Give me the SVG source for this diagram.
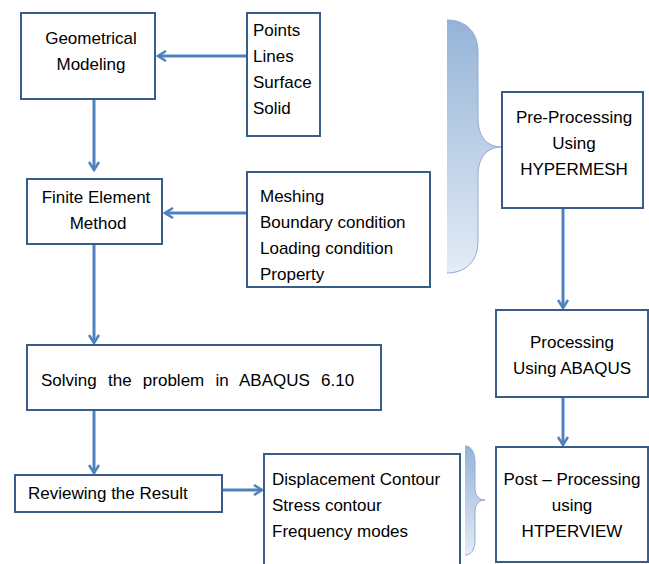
<svg xmlns="http://www.w3.org/2000/svg" width="649" height="564" viewBox="0 0 649 564">
<defs>
<style>
.box{fill:#fff;stroke:#385d8a;stroke-width:2}
.t{font-family:"Liberation Sans",Arial,sans-serif;font-size:17px;fill:#000}
.c{text-anchor:middle}
.conn{stroke:#4f81bd;stroke-width:3;fill:none}
</style>
<marker id="ah" viewBox="0 0 12 12" refX="10" refY="6" markerWidth="12" markerHeight="12" markerUnits="userSpaceOnUse" orient="auto">
<path d="M2,1 L10,6 L2,11" fill="none" stroke="#4f81bd" stroke-width="2.5"/>
</marker>
<linearGradient id="g" x1="0" y1="0" x2="0" y2="1">
<stop offset="0" stop-color="#95b3d7"/>
<stop offset="1" stop-color="#e4ecf6"/>
</linearGradient>
</defs>
<g id="connectors">
<line class="conn" x1="247" y1="56" x2="158" y2="56" marker-end="url(#ah)"/>
<line class="conn" x1="94" y1="99" x2="94" y2="170" marker-end="url(#ah)"/>
<line class="conn" x1="247" y1="213" x2="165" y2="213" marker-end="url(#ah)"/>
<line class="conn" x1="94" y1="245" x2="94" y2="343" marker-end="url(#ah)"/>
<line class="conn" x1="94" y1="411" x2="94" y2="473" marker-end="url(#ah)"/>
<line class="conn" x1="222" y1="490" x2="262" y2="490" marker-end="url(#ah)"/>
<line class="conn" x1="563" y1="208" x2="563" y2="308" marker-end="url(#ah)"/>
<line class="conn" x1="563" y1="397" x2="563" y2="445" marker-end="url(#ah)"/>
</g>
<g id="brace-pre">
<path d="M447,20 C466,20 478,32 478,52 L478,118 C478,138 488,147 502,147 C488,147 478,156 478,176 L478,241 C478,261 466,273 447,273 Z" fill="url(#g)" stroke="none"/>
<path d="M447,20 C466,20 478,32 478,52 L478,118 C478,138 488,147 502,147 C488,147 478,156 478,176 L478,241 C478,261 466,273 447,273" fill="none" stroke="#8eacd4" stroke-width="1"/>
</g>
<g id="brace-post">
<path d="M465,446 C471,446 475,452 475,462 L475,488 C475,496 479,500 485,500 C479,500 475,504 475,512 L475,540 C475,550 471,555 465,555 Z" fill="url(#g)" stroke="none"/>
<path d="M465,446 C471,446 475,452 475,462 L475,488 C475,496 479,500 485,500 C479,500 475,504 475,512 L475,540 C475,550 471,555 465,555" fill="none" stroke="#8eacd4" stroke-width="1"/>
</g>
<g id="geo">
<rect class="box" x="21" y="13" width="134" height="86"/>
<text class="t c" x="91" y="44">Geometrical</text>
<text class="t c" x="91" y="70">Modeling</text>
</g>
<g id="points">
<rect class="box" x="247" y="13" width="73" height="123"/>
<text class="t" x="253" y="36">Points</text>
<text class="t" x="253" y="62">Lines</text>
<text class="t" x="253" y="88">Surface</text>
<text class="t" x="253" y="114">Solid</text>
</g>
<g id="fem">
<rect class="box" x="27" y="179" width="135" height="65"/>
<text class="t c" x="96" y="203">Finite Element</text>
<text class="t c" x="98" y="229">Method</text>
</g>
<g id="meshing">
<rect class="box" x="247" y="172" width="183" height="115"/>
<text class="t" x="260" y="202">Meshing</text>
<text class="t" x="260" y="228">Boundary condition</text>
<text class="t" x="260" y="254">Loading condition</text>
<text class="t" x="260" y="280">Property</text>
</g>
<g id="solve">
<rect class="box" x="27" y="345" width="354" height="65"/>
<text class="t" x="41" y="386" word-spacing="6.5">Solving the problem in ABAQUS 6.10</text>
</g>
<g id="review">
<rect class="box" x="15" y="475" width="207" height="37"/>
<text class="t" x="28" y="499">Reviewing the Result</text>
</g>
<g id="results">
<path class="box" d="M264,566 L264,454 L460,454 L460,566"/>
<text class="t" x="272" y="485">Displacement Contour</text>
<text class="t" x="272" y="511">Stress contour</text>
<text class="t" x="272" y="537">Frequency modes</text>
</g>
<g id="pre">
<rect class="box" x="502" y="92" width="141" height="116"/>
<text class="t c" x="574" y="123">Pre-Processing</text>
<text class="t c" x="574" y="149">Using</text>
<text class="t c" x="574" y="175">HYPERMESH</text>
</g>
<g id="proc">
<rect class="box" x="496" y="310" width="152" height="87"/>
<text class="t c" x="572" y="348">Processing</text>
<text class="t c" x="572" y="374">Using ABAQUS</text>
</g>
<g id="post">
<rect class="box" x="496" y="447" width="152" height="115"/>
<text class="t c" x="572" y="485">Post – Processing</text>
<text class="t c" x="572" y="511">using</text>
<text class="t c" x="572" y="537">HTPERVIEW</text>
</g>
</svg>
